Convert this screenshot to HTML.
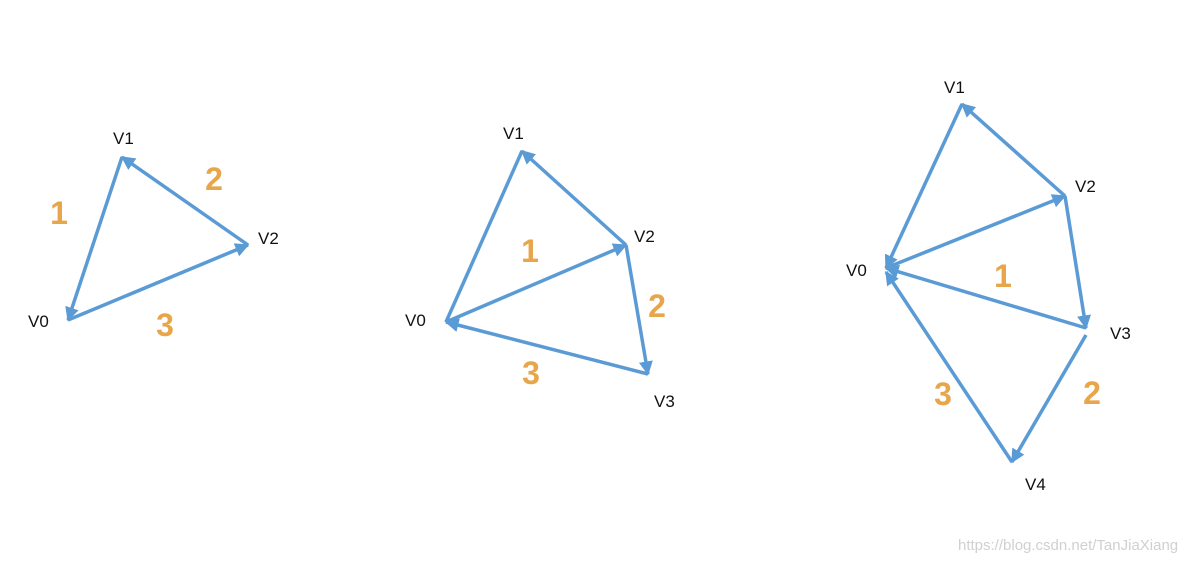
<!DOCTYPE html>
<html><head><meta charset="utf-8"><style>
html,body{margin:0;padding:0;background:#fff;}
svg{display:block;}
.v{font-family:"Liberation Sans",sans-serif;font-size:17px;fill:#111;}
.n{font-family:"Liberation Sans",sans-serif;font-size:32px;font-weight:bold;fill:#e8a64b;text-anchor:middle;}
</style></head><body>
<svg width="1200" height="562" viewBox="0 0 1200 562" xmlns="http://www.w3.org/2000/svg">
<defs>
<marker id="a" viewBox="0 0 10 10" refX="9" refY="5" markerWidth="4" markerHeight="4" orient="auto" markerUnits="strokeWidth">
<path d="M0,0 L10,5 L0,10 z" fill="#5b9bd5"/></marker>
</defs>
<g stroke="#5b9bd5" stroke-width="3.5" fill="none" marker-end="url(#a)">
<!-- diagram 1 -->
<line x1="122" y1="157" x2="68" y2="320"/>
<line x1="248" y1="245" x2="122" y2="157"/>
<line x1="68" y1="320" x2="248" y2="245"/>
<!-- diagram 2 -->
<line x1="522" y1="151" x2="446" y2="322" marker-end="none"/>
<line x1="626" y1="245" x2="522" y2="151"/>
<line x1="446" y1="322" x2="626" y2="245"/>
<line x1="626" y1="245" x2="648" y2="374"/>
<line x1="648" y1="374" x2="446" y2="322"/>
<!-- diagram 3 -->
<line x1="962" y1="104" x2="886" y2="268"/>
<line x1="1065" y1="196" x2="962" y2="104"/>
<line x1="886" y1="268" x2="1065" y2="196"/>
<line x1="1065" y1="196" x2="1086" y2="328"/>
<line x1="1086" y1="328" x2="886" y2="268"/>
<line x1="1086" y1="335" x2="1012" y2="462"/>
<line x1="1012" y1="462" x2="886" y2="272" />
</g>
<text class="v" x="113" y="144">V1</text>
<text class="v" x="258" y="244">V2</text>
<text class="v" x="28" y="327">V0</text>
<text class="n" x="59" y="224">1</text>
<text class="n" x="214" y="190">2</text>
<text class="n" x="165" y="336">3</text>

<text class="v" x="503" y="139">V1</text>
<text class="v" x="634" y="242">V2</text>
<text class="v" x="405" y="326">V0</text>
<text class="v" x="654" y="407">V3</text>
<text class="n" x="530" y="262">1</text>
<text class="n" x="657" y="317">2</text>
<text class="n" x="531" y="384">3</text>

<text class="v" x="944" y="93">V1</text>
<text class="v" x="1075" y="192">V2</text>
<text class="v" x="846" y="276">V0</text>
<text class="v" x="1110" y="339">V3</text>
<text class="v" x="1025" y="490">V4</text>
<text class="n" x="1003" y="287">1</text>
<text class="n" x="1092" y="404">2</text>
<text class="n" x="943" y="405">3</text>

<text x="958" y="550" font-family="Liberation Sans,sans-serif" font-size="15" fill="#d0d0d0">https://blog.csdn.net/TanJiaXiang</text>
</svg>
</body></html>
